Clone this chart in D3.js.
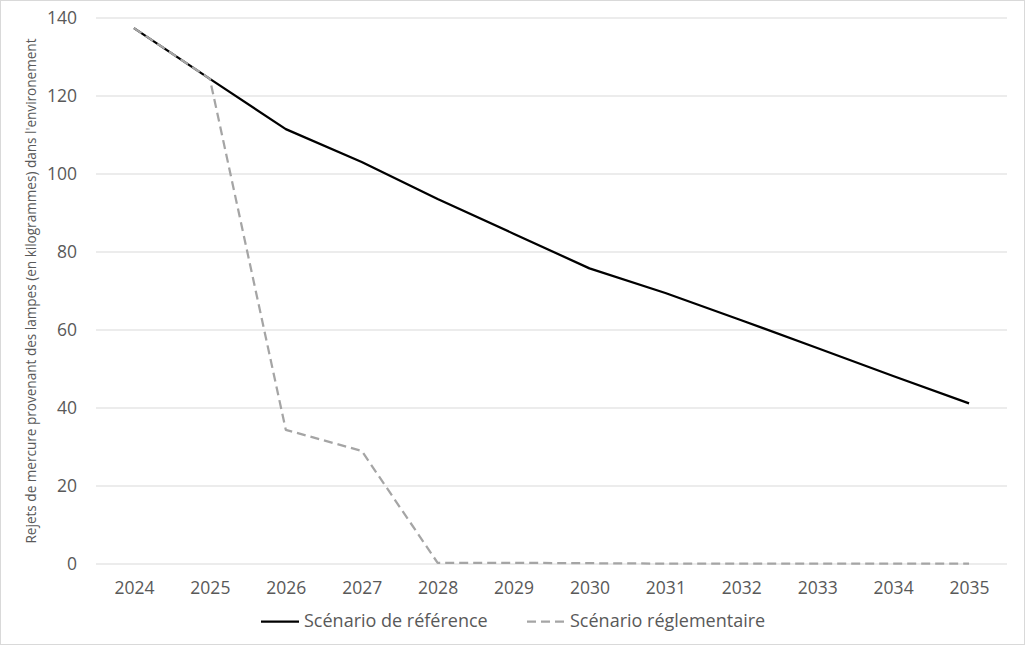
<!DOCTYPE html>
<html>
<head>
<meta charset="utf-8">
<script src="https://cdn.jsdelivr.net/npm/d3@7"></script>
<style>
  body { margin: 0; background: #fff; }
  text { font-family: "Open Sans", "Noto Sans", sans-serif; fill: #595959; }
</style>
</head>
<body>
<script>
// années et séries (kg de mercure)
const years = ["2024","2025","2026","2027","2028","2029","2030","2031","2032","2033","2034","2035"];
const reference = [137.4, 124.4, 111.5, 103.1, 93.6, 84.7, 75.8, 69.5, 62.5, 55.4, 48.2, 41.2];
const reglementaire = [137.4, 124.4, 34.4, 29.0, 0.3, 0.3, 0.2, 0.1, 0.1, 0.1, 0.1, 0.1];
const yTicks = [0, 20, 40, 60, 80, 100, 120, 140];
const legendLabels = ["Scénario de référence", "Scénario réglementaire"];

const W = 1025, H = 645;
const svg = d3.select("body").append("svg")
    .attr("width", W)
    .attr("height", H);

svg.append("rect")
    .attr("x", 0.5).attr("y", 0.5)
    .attr("width", W - 1).attr("height", H - 1)
    .attr("fill", "#fff")
    .attr("stroke", "#d9d9d9");

var x = d3.scalePoint()
    .domain(years)
    .range([96, 1007])
    .padding(0.5);

var y = d3.scaleLinear()
    .domain([0, 140])
    .range([564, 18]);

// grille horizontale
svg.append("g")
  .selectAll("line")
  .data(yTicks)
  .enter()
  .append("line")
    .attr("x1", 96).attr("x2", 1007)
    .attr("y1", d => y(d)).attr("y2", d => y(d))
    .attr("stroke", "#d9d9d9")
    .attr("stroke-width", 1);

// axe Y
var yAxis = svg.append("g")
    .attr("transform", "translate(96,0)")
    .call(d3.axisLeft(y).tickValues(yTicks).tickSize(0).tickPadding(19));
yAxis.select(".domain").remove();
yAxis.selectAll("text")
    .style("font-family", "'Open Sans', sans-serif")
    .style("font-size", "17.5px")
    .attr("fill", "#595959");

// axe X
var xAxis = svg.append("g")
    .attr("transform", "translate(0,564)")
    .call(d3.axisBottom(x).tickSize(0).tickPadding(17.5));
xAxis.select(".domain").remove();
xAxis.selectAll("text")
    .style("font-family", "'Open Sans', sans-serif")
    .style("font-size", "17.5px")
    .attr("fill", "#595959");

// titre de l'axe Y
svg.append("text")
    .attr("transform", "translate(36,291) rotate(-90)")
    .attr("text-anchor", "middle")
    .attr("textLength", 505)
    .attr("lengthAdjust", "spacingAndGlyphs")
    .style("font-size", "14px")
    .text("Rejets de mercure provenant des lampes (en kilogrammes) dans l'environement");

var line = d3.line()
    .x((d, i) => x(years[i]))
    .y(d => y(d));

svg.append("path")
    .datum(reference)
    .attr("d", line)
    .attr("fill", "none")
    .attr("stroke", "#000")
    .attr("stroke-width", 2.25)
    .attr("stroke-linejoin", "round");

svg.append("path")
    .datum(reglementaire)
    .attr("d", line)
    .attr("fill", "none")
    .attr("stroke", "#a5a5a5")
    .attr("stroke-width", 2.25)
    .attr("stroke-dasharray", "9,5")
    .attr("stroke-linejoin", "round");

// légende
var leg = svg.append("g");
leg.append("line")
    .attr("x1", 261).attr("x2", 299)
    .attr("y1", 621.5).attr("y2", 621.5)
    .attr("stroke", "#000").attr("stroke-width", 2.25);
leg.append("text")
    .attr("x", 304).attr("y", 627)
    .style("font-size", "18px")
    .text(legendLabels[0]);
leg.append("line")
    .attr("x1", 527).attr("x2", 566)
    .attr("y1", 621.5).attr("y2", 621.5)
    .attr("stroke", "#a5a5a5").attr("stroke-width", 2.25)
    .attr("stroke-dasharray", "9,5");
leg.append("text")
    .attr("x", 570).attr("y", 627)
    .style("font-size", "18px")
    .text(legendLabels[1]);
</script>
</body>
</html>
